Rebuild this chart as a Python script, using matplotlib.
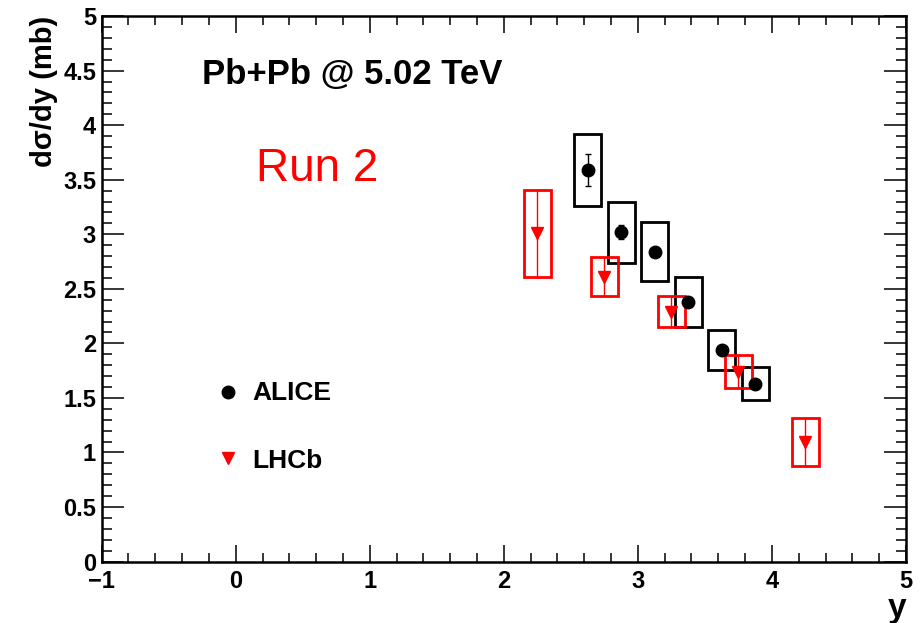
import matplotlib.pyplot as plt
from matplotlib.patches import Rectangle
from matplotlib.ticker import MultipleLocator, FuncFormatter

# ALICE data (Run 2, Pb+Pb 5.02 TeV)
alice_y = [2.625, 2.875, 3.125, 3.375, 3.625, 3.875]
alice_val = [3.59, 3.02, 2.84, 2.38, 1.94, 1.63]
alice_stat = [0.15, 0.065, 0.03, 0.03, 0.02, 0.02]
alice_sys = [0.33, 0.28, 0.27, 0.23, 0.18, 0.15]

# LHCb data
lhcb_y = [2.25, 2.75, 3.25, 3.75, 4.25]
lhcb_val = [3.01, 2.61, 2.29, 1.74, 1.10]
lhcb_stat = [0.40, 0.18, 0.14, 0.15, 0.22]
lhcb_sys = [0.40, 0.18, 0.14, 0.15, 0.22]

box_half = 0.1

plt.rcParams['font.family'] = ['Liberation Sans', 'DejaVu Sans']

fig = plt.figure(figsize=(9.24, 6.23), dpi=100)
ax = fig.add_axes([0.110, 0.0987, 0.8705, 0.8755])

# systematic boxes
for x, v, s in zip(alice_y, alice_val, alice_sys):
    ax.add_patch(Rectangle((x - box_half, v - s), 2 * box_half, 2 * s,
                           fill=False, edgecolor='black', lw=2, zorder=2))
for x, v, s in zip(lhcb_y, lhcb_val, lhcb_sys):
    ax.add_patch(Rectangle((x - box_half, v - s), 2 * box_half, 2 * s,
                           fill=False, edgecolor='red', lw=2, zorder=2))

# points with stat errors
ax.errorbar(alice_y, alice_val, yerr=alice_stat, fmt='o', color='black',
            ms=9, capsize=2.5, elinewidth=1, zorder=3)
ax.errorbar(lhcb_y, lhcb_val, yerr=lhcb_stat, fmt='v', color='red',
            ms=9, capsize=0, elinewidth=1, zorder=3)

ax.set_xlim(-1, 5)
ax.set_ylim(0, 5)

ax.xaxis.set_major_locator(MultipleLocator(1))
ax.xaxis.set_minor_locator(MultipleLocator(0.2))
ax.yaxis.set_major_locator(MultipleLocator(0.5))
ax.yaxis.set_minor_locator(MultipleLocator(0.1))

ax.xaxis.set_major_formatter(FuncFormatter(lambda v, p: f"{v:g}".replace('-', '\u2212')))
ax.yaxis.set_major_formatter(FuncFormatter(lambda v, p: f"{v:g}"))

ax.tick_params(which='both', direction='in', top=True, right=True, width=1.1)
ax.tick_params(axis='x', which='major', length=12.5)
ax.tick_params(axis='x', which='minor', length=6.5)
ax.tick_params(axis='y', which='major', length=16)
ax.tick_params(axis='y', which='minor', length=7)
ax.tick_params(axis='both', labelsize=17)
ax.tick_params(axis='x', pad=6)
ax.tick_params(axis='y', pad=4)
for lab in ax.get_xticklabels() + ax.get_yticklabels():
    lab.set_fontweight('bold')
for sp in ax.spines.values():
    sp.set_linewidth(1.8)

ax.set_ylabel('d\u03c3/dy (mb)', fontsize=21, fontweight='bold', loc='top', labelpad=4)
ax.set_xlabel('y', fontsize=24, fontweight='bold', loc='right', labelpad=0)

ax.text(-0.25, 4.38, 'Pb+Pb @ 5.02 TeV', fontsize=25, fontweight='bold', va='baseline')
ax.text(0.155, 3.49, 'Run 2', color='red', fontsize=33, va='baseline')

# legend drawn like ROOT TLegend
ax.plot([-0.06], [1.556], 'o', color='black', ms=9)
ax.text(0.127, 1.547, 'ALICE', fontsize=19, fontweight='bold', va='center')
ax.plot([-0.06], [0.95], 'v', color='red', ms=9)
ax.text(0.127, 0.92, 'LHCb', fontsize=19, fontweight='bold', va='center')

fig.savefig('out.png', dpi=100)
